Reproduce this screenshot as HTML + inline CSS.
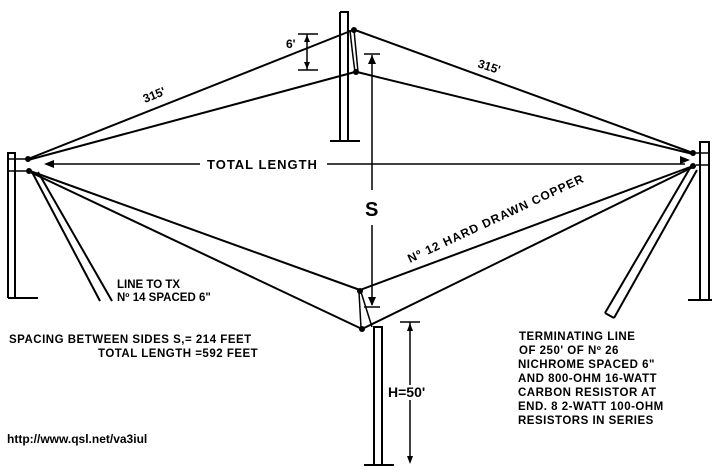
<!DOCTYPE html>
<html><head><style>
html,body{margin:0;padding:0;background:#fff;}
svg{display:block;}
text{font-family:"Liberation Sans",sans-serif;font-weight:bold;fill:#000;}
</style></head><body>
<svg width="722" height="475" viewBox="0 0 722 475" xmlns="http://www.w3.org/2000/svg">
<g stroke="#000" fill="none" stroke-width="2">
<!-- top pole -->
<path d="M340 12 L348 12 L348 141 M340 12 L340 141" />
<line x1="330" y1="141" x2="360" y2="141"/>
<!-- left pole -->
<path d="M8 298 L8 153 L15 153 L15 298"/>
<line x1="8" y1="298" x2="38" y2="298"/>
<line x1="8" y1="159" x2="26" y2="159" stroke-width="1.5"/>
<line x1="8" y1="171" x2="26" y2="171" stroke-width="1.5"/>
<!-- right pole -->
<path d="M700 300 L700 142 L709 142 L709 300"/>
<line x1="688" y1="300" x2="712" y2="300"/>
<line x1="696" y1="153" x2="709" y2="153" stroke-width="1.5"/>
<line x1="696" y1="165" x2="709" y2="165" stroke-width="1.5"/>
<!-- bottom pole -->
<path d="M374 465 L374 327 L382 327 L382 465"/>
<line x1="364" y1="465" x2="394" y2="465"/>
<!-- upper wires -->
<line x1="28" y1="159" x2="353" y2="30"/>
<line x1="28" y1="160" x2="355" y2="72"/>
<line x1="355" y1="30" x2="693" y2="153"/>
<line x1="357" y1="72" x2="693" y2="154"/>
<path d="M350 30 Q352 50 355 72 M354 30 L358 72" stroke-width="1.5"/>
<!-- lower wires -->
<line x1="30" y1="171" x2="360" y2="290"/>
<line x1="30" y1="172" x2="362" y2="329"/>
<line x1="360" y1="290" x2="693" y2="166"/>
<line x1="362" y1="329" x2="693" y2="167"/>
<path d="M359 292 L361 328 M361 292 L372 327" stroke-width="1.5"/>
<!-- line to TX -->
<line x1="32" y1="172" x2="100" y2="301"/>
<line x1="38" y1="172" x2="112" y2="301"/>
<!-- right brace -->
<line x1="690" y1="168" x2="605" y2="313"/>
<line x1="697" y1="170" x2="614" y2="318"/>
<line x1="605" y1="313" x2="614" y2="318"/>
<!-- total length arrow -->
<line x1="48" y1="164" x2="200" y2="164" stroke-width="1.5"/>
<line x1="327" y1="164" x2="685" y2="164" stroke-width="1.5"/>
<!-- S dimension -->
<line x1="372" y1="55" x2="372" y2="190" stroke-width="1.5"/>
<line x1="372" y1="225" x2="372" y2="305" stroke-width="1.5"/>
<line x1="364" y1="54" x2="380" y2="54" stroke-width="1.5"/>
<line x1="364" y1="307" x2="380" y2="307" stroke-width="1.5"/>
<!-- 6' dimension -->
<line x1="298" y1="34" x2="318" y2="34" stroke-width="1.5"/>
<line x1="298" y1="70" x2="318" y2="70" stroke-width="1.5"/>
<line x1="307" y1="34" x2="307" y2="70" stroke-width="1.5"/>
<!-- H dimension -->
<line x1="400" y1="322" x2="420" y2="322" stroke-width="1.5"/>
<line x1="410" y1="322" x2="410" y2="385" stroke-width="1.5"/>
<line x1="410" y1="400" x2="410" y2="462" stroke-width="1.5"/>
</g>
<g fill="#000">
<polygon points="44,164 54,160 54,168"/>
<polygon points="690,160 680,156 680,164"/>
<polygon points="372,55 368,64 376,64"/>
<polygon points="372,306 368,297 376,297"/>
<polygon points="307,35 304,42 310,42"/>
<polygon points="307,69 304,62 310,62"/>
<polygon points="410,323 407,331 413,331"/>
<polygon points="410,464 407,456 413,456"/>
<circle cx="28" cy="159" r="3"/><circle cx="29" cy="171" r="3"/>
<circle cx="693" cy="153" r="3"/><circle cx="693" cy="166" r="3"/>
<circle cx="360" cy="291" r="3"/><circle cx="362" cy="329" r="3"/>
<circle cx="354" cy="30" r="3"/><circle cx="356" cy="72" r="3"/>
</g>
<text x="207" y="169" font-size="13" letter-spacing="1">TOTAL LENGTH</text>
<text x="365" y="216" font-size="20" font-weight="normal">S</text>
<text x="286" y="48" font-size="12">6'</text>
<text x="145" y="103" font-size="12" transform="rotate(-22 145 103)">315'</text>
<text x="477" y="67" font-size="12" transform="rotate(18 477 67)">315'</text>
<text x="410" y="263" font-size="12" letter-spacing="1" transform="rotate(-25 410 263)">Nº 12 HARD DRAWN COPPER</text>
<text x="117" y="288" font-size="11.5">LINE TO TX</text>
<text x="117" y="301" font-size="11.5">Nº 14 SPACED 6"</text>
<text x="9" y="343" font-size="11.5" letter-spacing="0.5">SPACING BETWEEN SIDES S,= 214 FEET</text>
<text x="98" y="357" font-size="11.5" letter-spacing="0.5">TOTAL LENGTH =592 FEET</text>
<text x="388" y="397" font-size="14" font-weight="normal">H=50'</text>
<g font-size="11.5" letter-spacing="0.5">
<text x="519" y="340">TERMINATING LINE</text>
<text x="519" y="354">OF 250' OF Nº 26</text>
<text x="518" y="368">NICHROME SPACED 6"</text>
<text x="518" y="382">AND 800-OHM 16-WATT</text>
<text x="518" y="396">CARBON RESISTOR AT</text>
<text x="518" y="410">END.  8 2-WATT 100-OHM</text>
<text x="518" y="424">RESISTORS IN SERIES</text>
</g>
<text x="7" y="443" font-size="12" font-weight="normal">http://www.qsl.net/va3iul</text>
</svg>
</body></html>
